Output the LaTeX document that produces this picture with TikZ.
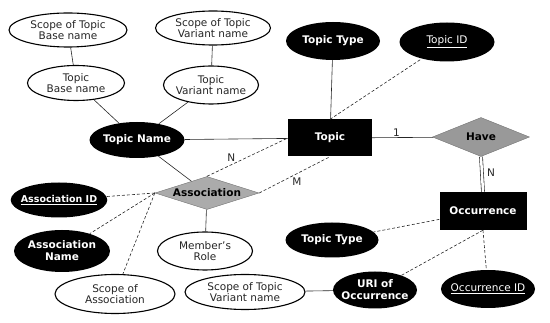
\documentclass[tikz,border=0pt]{standalone}
\usepackage{fontspec}
\setmainfont{DejaVu Sans}
\usepackage{tikz}
\usetikzlibrary{shapes.geometric}

\begin{document}
\begin{tikzpicture}[
      x=1pt, y=-1pt,
      attribute/.style={ellipse,draw,line width=1.1pt,fill=white,align=center,inner sep=-4pt,
        text=black!85,font=\fontsize{10.5}{11.5}\selectfont},
      key attribute/.style={ellipse,fill=black,text=white,align=center,inner sep=-4pt,
        font=\bfseries\fontsize{10.5}{12}\selectfont},
      entity/.style={rectangle,fill=black,text=white,font=\bfseries\fontsize{10.5}{12}\selectfont},
      relation/.style={diamond,draw=black!55,fill=black!40,text=black,inner sep=0pt,aspect=3,
        font=\bfseries\fontsize{10.5}{12}\selectfont},
      link/.style={line width=.6pt,black!85},
      dashed link/.style={line width=.6pt,black!85,densely dashed},
      card/.style={inner sep=1pt,font=\fontsize{10.5}{12}\selectfont}
      ]
      \useasboundingbox (0,0) rectangle (550,323);
      % nodes
      % topic name side
      \node [attribute,minimum width=118,minimum height=34] (scope base) at (68,30) {Scope of Topic\\Base name};
      \node [attribute,minimum width=115,minimum height=34] (scope variant) at (213,28) {Scope of Topic\\Variant name};
      \node [attribute,minimum width=97,minimum height=35] (base name) at (76,83) {Topic\\Base name};
      \node [attribute,minimum width=95,minimum height=38] (variant name) at (211,85) {Topic\\Variant name};
      \node [key attribute,minimum width=95,minimum height=36] (topic name) at (137,140) {Topic Name};
      % topic
      \node [entity,minimum width=84,minimum height=37] (topic) at (330,138) {Topic};
      \node [key attribute,minimum width=94,minimum height=38] (topic type) at (333,41) {Topic Type};
      \node [key attribute,minimum width=95,minimum height=39] (topic id) at (447,42) {\underline{\mdseries Topic ID}};
      \node [relation,minimum width=97,minimum height=39] (have) at (481,137) {Have};
      % association
      \node [relation,minimum width=104,minimum height=33,fill=black!33] (assoc) at (207,193) {Association};
      \node [key attribute,minimum width=96,minimum height=35,font=\bfseries\fontsize{9.5}{11}\selectfont] (assoc id) at (59,200) {\underline{Association ID}};
      \node [key attribute,minimum width=96,minimum height=42] (assoc name) at (62,251) {Association\\Name};
      \node [attribute,minimum width=95,minimum height=38] (role) at (205,251) {Member's\\Role};
      \node [attribute,minimum width=120,minimum height=39] (scope assoc) at (115,294) {Scope of\\Association};
      % occurrence
      \node [entity,minimum width=87,minimum height=38] (occ) at (483,211) {Occurrence};
      \node [key attribute,minimum width=93,minimum height=35] (occ type) at (332,240) {Topic Type};
      \node [key attribute,minimum width=84,minimum height=37] (uri) at (375,290) {URI of\\Occurrence};
      \node [key attribute,minimum width=87,minimum height=38] (occ id) at (488,289) {\underline{\mdseries Occurrence ID}};
      \node [attribute,minimum width=120,minimum height=35] (scope variant 2) at (245,292) {Scope of Topic\\Variant name};
      % edges
      \draw [link] (scope base) -- (base name);
      \draw [link] (scope variant) -- (variant name);
      \draw [link] (base name) -- (topic name);
      \draw [link] (variant name) -- (topic name);
      \draw [link] (topic name) -- (topic);
      \draw [link] (topic name) -- (assoc);
      \draw [link] (topic type) -- (topic);
      \draw [dashed link] (topic.north) -- (topic id);
      % topic - association
      \draw [dashed link] (assoc.north) -- (topic.west) node [card,pos=.3,above=2pt] {N};
      \draw [dashed link] (assoc.east) -- (topic.south) node [card,pos=.45,below right] {M};
      % topic - have - occurrence
      \draw [link] (topic) -- (have) node [card,pos=.4,above] {1};
      \draw [link,double,double distance=2.5pt] (have.south) -- (occ.north) node [card,pos=.45,right=4pt] {N};
      % association attributes
      \draw [dashed link] (assoc.west) -- (assoc id);
      \draw [dashed link] (assoc.west) -- (assoc name);
      \draw [dashed link] (assoc.west) -- (scope assoc);
      \draw [link] (assoc) -- (role);
      % occurrence attributes
      \draw [dashed link] (occ) -- (occ type);
      \draw [dashed link] (occ.south) -- (uri);
      \draw [dashed link] (occ.south) -- (occ id);
      \draw [link] (uri) -- (scope variant 2);
\end{tikzpicture}
\end{document}
